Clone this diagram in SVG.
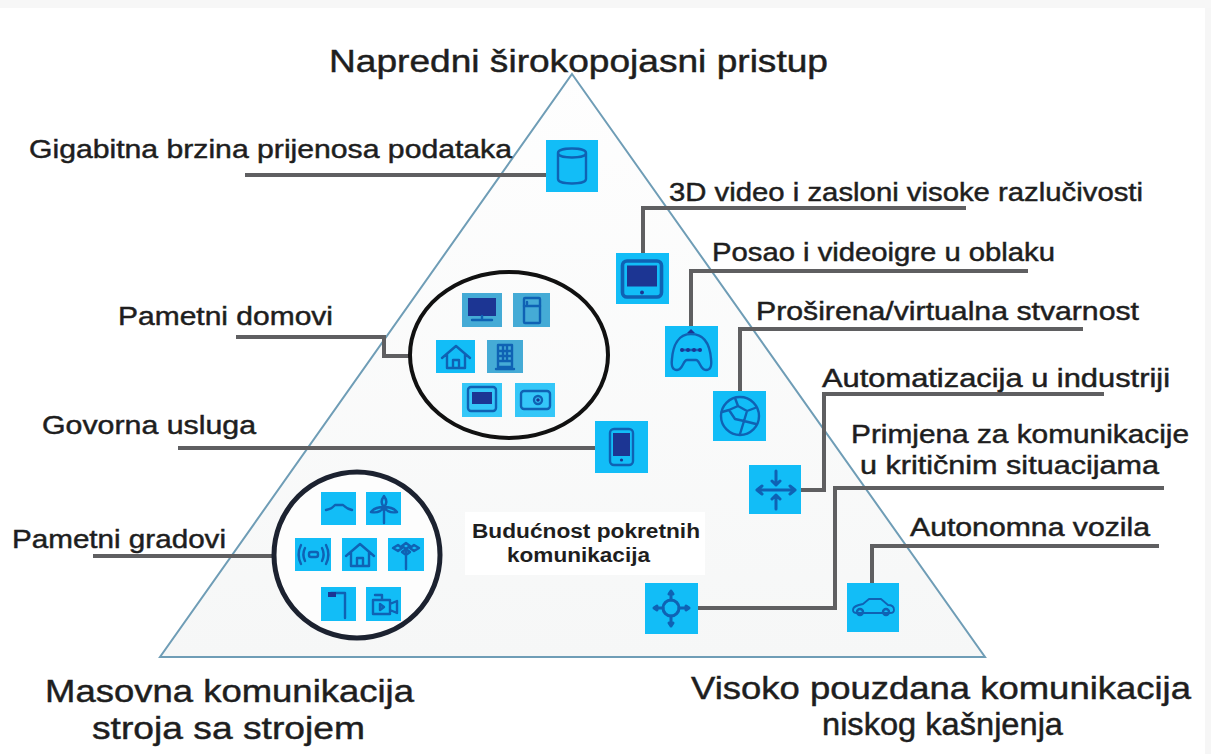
<svg xmlns="http://www.w3.org/2000/svg" width="1211" height="754" viewBox="0 0 1211 754">
<style>
text{font-family:"Liberation Sans",Arial,sans-serif;fill:#1e1e1e;stroke:#1e1e1e;stroke-width:.45}
.h{font-size:31px}.l{font-size:25px}.s{font-size:19.5px;font-weight:bold;stroke:none}
.c{fill:none;stroke:#5f5f61;stroke-width:4}
.b{fill:#12bdf7}.d{fill:#45abd6}
.i{fill:none;stroke:#0f62b4;stroke-width:2.4;stroke-linecap:round;stroke-linejoin:round}
.f{fill:#1c3593;stroke:none}
.r{fill:none;stroke:#111;stroke-width:4}
</style>
<defs>
<linearGradient id="g" x1="0" y1="0" x2="0" y2="1"><stop offset="0" stop-color="#fefefe"/><stop offset="1" stop-color="#f6f7f7"/></linearGradient>
<g id="home"><path class="i" d="M-14 1 0-11 14 1M-9-3V11H9V-3M-3 11V3H3V11"/></g>
<g id="mon"><rect class="i" x="-13" y="-12" width="26" height="24" rx="3"/><rect class="f" x="-10" y="-9" width="20" height="14"/><circle class="f" cx="0" cy="9" r="1.3"/></g>
</defs>
<rect width="1211" height="754" fill="#fff"/>
<rect x="1205" y="0" width="6" height="754" fill="#f6f6f6"/>
<rect x="0" y="0" width="1211" height="8" fill="#f7f7f7"/>
<g id="pyramid">
<path d="M572 74 985 657H160Z" fill="url(#g)" stroke="#6f9db6" stroke-width="2"/>
<rect x="465" y="512" width="240" height="63" fill="#fff"/>
</g>
<g id="connectors">
<path class="c" d="M245 175H546"/>
<path class="c" d="M643 253V208H966"/>
<path class="c" d="M691 326V271H1028"/>
<path class="c" d="M740 391V329H1083"/>
<path class="c" d="M801 490H824V394H1104"/>
<path class="c" d="M698 608H835V488H1164"/>
<path class="c" d="M872 583V546H1159"/>
<path class="c" d="M236 337H384V356H410"/>
<path class="c" d="M178 448H595"/>
<path class="c" d="M93 556H272"/>
</g>
<g id="titles">
<text class="h" x="329" y="72" textLength="499" lengthAdjust="spacingAndGlyphs">Napredni širokopojasni pristup</text>
<text class="h" x="45" y="702" textLength="369" lengthAdjust="spacingAndGlyphs">Masovna komunikacija</text>
<text class="h" x="92" y="739" textLength="273" lengthAdjust="spacingAndGlyphs">stroja sa strojem</text>
<text class="h" x="691" y="699" textLength="500" lengthAdjust="spacingAndGlyphs">Visoko pouzdana komunikacija</text>
<text class="h" x="822" y="735" textLength="241" lengthAdjust="spacingAndGlyphs">niskog kašnjenja</text>
</g>
<g id="labels">
<text class="l" x="29" y="158" textLength="483" lengthAdjust="spacingAndGlyphs">Gigabitna brzina prijenosa podataka</text>
<text class="l" x="669" y="201" textLength="474" lengthAdjust="spacingAndGlyphs">3D video i zasloni visoke razlučivosti</text>
<text class="l" x="712" y="261" textLength="343" lengthAdjust="spacingAndGlyphs">Posao i videoigre u oblaku</text>
<text class="l" x="756" y="320" textLength="383" lengthAdjust="spacingAndGlyphs">Proširena/virtualna stvarnost</text>
<text class="l" x="822" y="387" textLength="348" lengthAdjust="spacingAndGlyphs">Automatizacija u industriji</text>
<text class="l" x="851" y="443" textLength="338" lengthAdjust="spacingAndGlyphs">Primjena za komunikacije</text>
<text class="l" x="860" y="474" textLength="299" lengthAdjust="spacingAndGlyphs">u kritičnim situacijama</text>
<text class="l" x="910" y="536" textLength="240" lengthAdjust="spacingAndGlyphs">Autonomna vozila</text>
<text class="l" x="118" y="325" textLength="215" lengthAdjust="spacingAndGlyphs">Pametni domovi</text>
<text class="l" x="42" y="434" textLength="214" lengthAdjust="spacingAndGlyphs">Govorna usluga</text>
<text class="l" x="12" y="548" textLength="214" lengthAdjust="spacingAndGlyphs">Pametni gradovi</text>
<text class="s" x="472" y="538" textLength="228" lengthAdjust="spacingAndGlyphs">Budućnost pokretnih</text>
<text class="s" x="507" y="562" textLength="143" lengthAdjust="spacingAndGlyphs">komunikacija</text>
</g>
<g id="node-db"><rect class="b" x="546" y="140" width="52" height="52"/><path class="i" d="M558 153c0-6 28-6 28 0v26c0 6-28 6-28 0zM558 153c0 6 28 6 28 0"/></g>
<g id="node-monitor"><rect class="b" x="616" y="253" width="53" height="51"/><use href="#mon" transform="translate(642 279) scale(1.5)"/></g>
<g id="node-game"><rect class="b" x="665" y="326" width="53" height="51"/><path class="i" d="M691 334c-13 0-18 12-19 25-1 8 1 11 5 11 6 0 6-10 10-10h9c4 0 4 10 10 10 4 0 6-3 5-11-1-13-6-25-20-25zM682 350h18"/><path class="f" d="M687 333l4-4 4 4z"/><circle class="f" cx="682" cy="350" r="2"/><circle class="f" cx="688" cy="350" r="2"/><circle class="f" cx="694" cy="350" r="2"/><circle class="f" cx="700" cy="350" r="2"/></g>
<g id="node-globe"><rect class="b" x="713" y="391" width="53" height="50"/><circle class="i" cx="740" cy="416" r="19"/><path class="i" d="M735 398l3 8-9 4-7 2M738 406l9 5 8-3M729 410l6 9 9 2M747 411l-3 10-4 13M744 421l12 3"/></g>
<g id="node-voice"><rect class="b" x="595" y="421" width="53" height="52"/><rect class="i" x="610" y="429" width="23" height="36" rx="4"/><rect class="f" x="613" y="433" width="17" height="23"/><circle class="f" cx="621.500" cy="460" r="1.600"/></g>
<g id="node-automation"><rect class="b" x="749" y="465" width="52" height="49"/><path class="i" style="stroke-width:3" d="M757 490H795M757 490l5-4M757 490l5 4M795 490l-5-4M795 490l-5 4M776 471V485M776 485l-4-4M776 485l4-4M776 509V495M776 495l-4 4M776 495l4 4"/></g>
<g id="node-critical"><rect class="b" x="645" y="583" width="53" height="51"/><circle class="i" cx="671" cy="608" r="8" style="stroke-width:3"/><path class="i" style="stroke-width:3" d="M671 592V600M671 616V626M654 608H663M679 608H689M669 594l2-3 2 3M669 623l2 3 2-3M657 606l-3 2 3 2M686 606l3 2-3 2"/></g>
<g id="node-car"><rect class="b" x="847" y="583" width="52" height="49"/><path class="i" style="stroke-width:1.800" d="M853 610c0-4 5-5 10-6l6-5h12l7 6c4 0 6 2 6 5 0 2-2 3-4 3h-33c-2 0-4-1-4-3z"/><circle class="i" cx="860" cy="612" r="3"/><circle class="i" cx="886" cy="612" r="3"/></g>
<g id="node-homes">
<ellipse class="r" cx="509" cy="355" rx="99" ry="83"/>
<rect class="d" x="462" y="293" width="40" height="34"/><rect class="f" x="468" y="298" width="28" height="18"/><path class="i" d="M472 320H492M482 316V320"/>
<rect class="d" x="513" y="293" width="37" height="34"/><rect class="i" x="524" y="298" width="16" height="25" rx="1"/><path class="i" d="M524 306H540M527 302V304"/>
<rect class="b" x="436" y="340" width="39" height="33"/><use href="#home" transform="translate(456 357)"/>
<rect class="d" x="487" y="340" width="36" height="33"/><path class="i" d="M498 345H512V367H498ZM496 369H514M498 351H512M498 356H512M498 361H512M503 345V361M507 345V361"/>
<rect class="b" x="462" y="383" width="40" height="34" opacity=".85"/><rect class="i" x="468" y="387" width="28" height="24" rx="3"/><rect class="f" x="472" y="392" width="20" height="12"/>
<rect class="b" x="515" y="383" width="40" height="34" opacity=".85"/><rect class="i" x="521" y="391" width="29" height="18" rx="3"/><circle class="i" cx="538" cy="400" r="4"/><circle class="f" cx="538" cy="400" r="1.800"/>
</g>
<g id="node-cities">
<circle cx="357" cy="555" r="83" fill="#fdfdfd" stroke="#1c2230" stroke-width="5"/>
<rect class="b" x="321" y="492" width="35" height="33"/><path class="i" d="M326 510c5-1 6-2 9-5h8c3 3 5 4 9 5"/>
<rect class="b" x="366" y="492" width="35" height="33"/><path class="i" d="M384 496c-3 4-3 8 0 11 3-3 3-7 0-11zM384 507c-3 5-8 6-13 5 3-4 9-5 13-5zM384 507c3 5 8 6 13 5-3-4-9-5-13-5zM384 507V523"/>
<rect class="b" x="295" y="538" width="36" height="33"/><rect class="i" x="309" y="552" width="9" height="5" rx="2"/><path class="i" d="M305 548c-2 4-2 9 0 13M322 548c2 4 2 9 0 13M301 545c-3 6-3 13 0 19M326 545c3 6 3 13 0 19"/>
<rect class="b" x="342" y="538" width="35" height="33"/><use href="#home" transform="translate(360 555)"/>
<rect class="b" x="388" y="538" width="36" height="33"/><path class="i" d="M406 552V569M406 543l4 3-4 3-4-3zM398 545l4 3-4 3-5-3zM414 545l5 3-5 3-4-3zM406 549l4 3-4 3-4-3z"/>
<rect class="b" x="321" y="587" width="35" height="34"/><path class="i" d="M331 593H345V618"/><path class="f" d="M328 592h8v5h-8z"/>
<rect class="b" x="366" y="587" width="35" height="34"/><path class="i" d="M373 600H390V614H373ZM390 604l7-3V613l-7-3M375 595h7v5M380 604v6l4-3z"/>
</g>
</svg>
